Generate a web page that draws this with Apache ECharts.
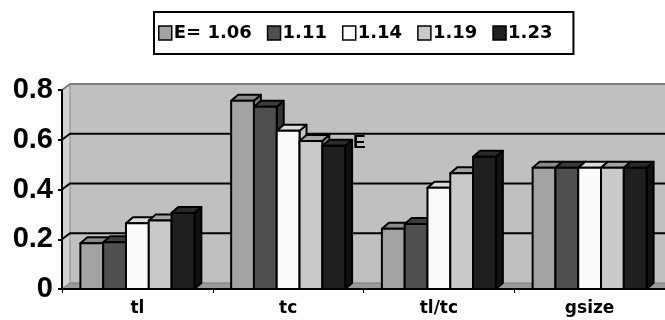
<!DOCTYPE html>
<html>
<head>
<meta charset="utf-8">
<script src="https://cdn.jsdelivr.net/npm/echarts@6/dist/echarts.min.js"></script>
<style>
  html, body { margin: 0; padding: 0; background: #ffffff; }
  #chart { width: 665px; height: 320px; }
</style>
</head>
<body>
<div id="chart"></div>
<script>
// Categories and one value list per E level
const categories = ['tl', 'tc', 'tl/tc', 'gsize'];
const seriesNames = ['E= 1.06', '1.11', '1.14', '1.19', '1.23'];
const e106 = [0.184, 0.757, 0.242, 0.487];
const e111 = [0.188, 0.733, 0.261, 0.487];
const e114 = [0.264, 0.636, 0.407, 0.487];
const e119 = [0.275, 0.595, 0.465, 0.487];
const e123 = [0.306, 0.576, 0.532, 0.487];
const gridValues = [0.2, 0.4, 0.6];

const seriesValues = [e106, e111, e114, e119, e123];

// Front, top and side shades for each pseudo-3D column
const faceColors = ['#a3a3a3', '#4f4f4f', '#fafafa', '#c9c9c9', '#1f1f1f'];
const topColors  = ['#8a8a8a', '#3c3c3c', '#dcdcdc', '#a4a4a4', '#2a2a2a'];
const sideColors = ['#7a7a7a', '#333333', '#c4c4c4', '#999999', '#111111'];

const BAR_DX = 7, BAR_DY = -6;      // column depth
const WALL_DX = 8, WALL_DY = -6;    // back wall depth
const GROUP_RATIO = 0.756;          // share of a category used by its columns
const FONT = '"Liberation Sans", Arial, sans-serif';
const WIDE_FONT = '"DejaVu Sans", Verdana, sans-serif';

function columnRenderer(k) {
  return function (params, api) {
    const cat = api.value(0);
    const val = api.value(1);
    const base = api.coord([cat, 0]);
    const top = api.coord([cat, val]);
    const catW = api.size([1, 0])[0];
    const groupW = catW * GROUP_RATIO;
    const w = groupW / seriesNames.length;
    const x0 = base[0] - groupW / 2 + k * w;
    const x1 = x0 + w;
    const y0 = base[1];
    const y1 = top[1];
    const edge = { stroke: '#000', lineWidth: 2, lineJoin: 'round' };
    return {
      type: 'group',
      children: [
        { type: 'polygon',
          shape: { points: [[x1, y0], [x1 + BAR_DX, y0 + BAR_DY], [x1 + BAR_DX, y1 + BAR_DY], [x1, y1]] },
          style: Object.assign({ fill: sideColors[k] }, edge) },
        { type: 'polygon',
          shape: { points: [[x0, y1], [x0 + BAR_DX, y1 + BAR_DY], [x1 + BAR_DX, y1 + BAR_DY], [x1, y1]] },
          style: Object.assign({ fill: topColors[k] }, edge) },
        { type: 'rect',
          shape: { x: x0, y: y1, width: w, height: y0 - y1 },
          style: Object.assign({ fill: faceColors[k] }, edge) }
      ]
    };
  };
}

// Walls, floor and gridlines behind the columns
function wallRenderer(params, api) {
  const cs = params.coordSys;
  const xL = cs.x, xR = cs.x + cs.width;
  const y0 = api.coord([0, 0])[1];
  const yTop = api.coord([0, 0.8])[1];
  const children = [
    // back wall
    { type: 'rect',
      shape: { x: xL + WALL_DX, y: yTop + WALL_DY, width: xR - xL + 20, height: y0 - yTop },
      style: { fill: '#c0c0c0' } },
    // left side wall
    { type: 'polygon',
      shape: { points: [[xL, y0], [xL, yTop], [xL + WALL_DX, yTop + WALL_DY], [xL + WALL_DX, y0 + WALL_DY]] },
      style: { fill: '#d2d2d2', stroke: '#8c8c8c', lineWidth: 1 } },
    // floor
    { type: 'polygon',
      shape: { points: [[xL, y0], [xR, y0], [xR + WALL_DX, y0 + WALL_DY], [xL + WALL_DX, y0 + WALL_DY]] },
      style: { fill: '#9a9a9a', stroke: '#7a7a7a', lineWidth: 1 } },
    // top edge of the walls
    { type: 'polyline',
      shape: { points: [[xL, yTop], [xL + WALL_DX, yTop + WALL_DY], [xR + 20, yTop + WALL_DY]] },
      style: { fill: null, stroke: '#7f7f7f', lineWidth: 2 } }
  ];
  gridValues.forEach(function (v) {
    const y = api.coord([0, v])[1];
    children.push({ type: 'polyline',
      shape: { points: [[xL, y], [xL + WALL_DX, y + WALL_DY], [xR + 20, y + WALL_DY]] },
      style: { fill: null, stroke: '#000', lineWidth: 2 } });
  });
  // stray "E" glyph sitting behind the last tc column
  const catW = api.size([1, 0])[0];
  const tcCenter = api.coord([1, 0])[0];
  children.push({ type: 'text',
    style: { text: 'E', x: tcCenter + catW * GROUP_RATIO / 2 + BAR_DX + 1, y: api.coord([1, 0.589])[1],
             fill: '#000', font: 'bold 19px ' + FONT, verticalAlign: 'middle', align: 'left' } });
  return { type: 'group', children: children };
}

const series = [{
  type: 'custom',
  name: 'walls',
  z: 1,
  silent: true,
  renderItem: wallRenderer,
  data: [[0, 0]]
}];
seriesValues.forEach(function (vals, k) {
  series.push({
    type: 'custom',
    name: seriesNames[k],
    z: 2,
    itemStyle: { color: faceColors[k] },
    renderItem: columnRenderer(k),
    data: categories.map(function (c, i) { return [i, vals[i]]; })
  });
});

const chart = echarts.init(document.getElementById('chart'), null, { renderer: 'canvas' });
chart.setOption({
  animation: false,
  backgroundColor: '#ffffff',
  legend: {
    data: seriesNames,
    left: 154,
    top: 12,
    padding: [12, 21, 12, 4],
    itemGap: 15,
    itemWidth: 13,
    itemHeight: 14,
    icon: 'rect',
    borderColor: '#000',
    borderWidth: 2,
    backgroundColor: '#fff',
    itemStyle: { borderColor: '#000', borderWidth: 1.5 },
    textStyle: { color: '#000', fontFamily: WIDE_FONT, fontWeight: 'bold', fontSize: 18, padding: [0, 0, 0, -3] }
  },
  grid: { left: 62, right: 0, top: 90, bottom: 31, containLabel: false },
  xAxis: {
    type: 'category',
    data: categories,
    z: 3,
    axisLine: { show: true, lineStyle: { color: '#000', width: 2 } },
    axisTick: { show: true, length: 4, lineStyle: { color: '#000', width: 1 } },
    axisLabel: { color: '#000', fontFamily: WIDE_FONT, fontWeight: 'bold', fontSize: 17, margin: 11 },
    splitLine: { show: false }
  },
  yAxis: {
    type: 'value',
    min: 0,
    max: 0.8,
    interval: 0.2,
    z: 3,
    axisLine: { show: true, lineStyle: { color: '#000', width: 2 } },
    axisTick: { show: true, length: 4, lineStyle: { color: '#000', width: 2 } },
    axisLabel: { color: '#000', fontFamily: FONT, fontWeight: 'bold', fontSize: 29, margin: 9,
                 formatter: function (v) { return String(Math.round(v * 10) / 10); } },
    splitLine: { show: false }
  },
  series: series
});
</script>
</body>
</html>
